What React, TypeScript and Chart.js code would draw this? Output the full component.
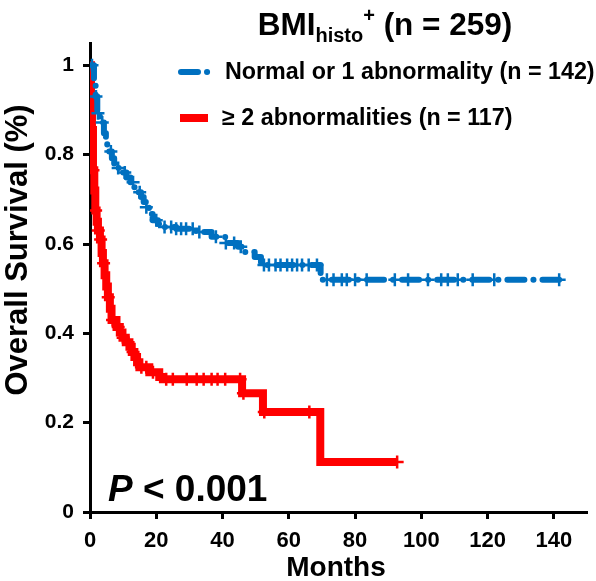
import React, { useEffect, useRef } from "react";
import { Chart, registerables } from "chart.js";

Chart.register(...registerables);

// ---------- data ----------
const xTicks = [0, 20, 40, 60, 80, 100, 120, 140];
const yTicks = [0, 0.2, 0.4, 0.6, 0.8, 1];
const yTickLabels = ["0", "0.2", "0.4", "0.6", "0.8", "1"];

const titleMain = "BMI";
const titleSub = "histo";
const titleSup = "+";
const titleRest = " (n = 259)";
const seriesNames = ["Normal or 1 abnormality (n = 142)", "\u2265 2 abnormalities (n = 117)"];
const pText = "P";
const pRest = " < 0.001";
const xTitle = "Months";
const yTitle = "Overall Survival (%)";

// Normal or 1 abnormality: event times and survival after each event
const blueTimes = [0, 1.2, 1.7, 2.2, 3.0, 3.6, 4.2, 4.8, 5.2, 5.8, 6.6, 7.3, 8.0, 9.5, 11, 12.2, 13.4, 14.5, 15.4, 16.2, 16.9, 17.8, 18.9, 20.5, 22, 26, 32, 36.7, 40.8, 44.7, 46.7, 49.7, 51.6, 69.6];
const blueSurv = [1, 0.96, 0.93, 0.893, 0.88, 0.872, 0.848, 0.835, 0.821, 0.807, 0.792, 0.78, 0.77, 0.76, 0.749, 0.738, 0.727, 0.716, 0.705, 0.694, 0.682, 0.667, 0.653, 0.645, 0.638, 0.634, 0.627, 0.616, 0.602, 0.594, 0.582, 0.571, 0.553, 0.52];
const blueEnd = 141.6;
const blueCensor = [0.6, 1.8, 2.4, 3.7, 6.3, 8.5, 10.5, 13, 15, 17, 20, 22.5, 24.5, 26, 27.5, 29, 31, 33, 38, 41, 43.5, 45.5, 52.5, 54, 56, 57.5, 59.5, 61, 62.5, 64, 66, 68.5, 71.5, 73.5, 76, 77.5, 80, 83.5, 92, 96, 102, 106, 108, 111, 115.5, 122, 141.6];

// >= 2 abnormalities
const redTimes = [0, 0.3, 0.6, 0.9, 1.3, 1.6, 2.0, 2.4, 3.0, 3.5, 3.9, 4.4, 4.9, 5.4, 6.0, 6.5, 8.0, 9.0, 9.8, 10.8, 11.9, 12.6, 13.4, 14.2, 14.9, 17.9, 20.9, 22.0, 45.9, 52.2, 69.5];
const redSurv = [1, 0.92, 0.855, 0.765, 0.72, 0.675, 0.65, 0.63, 0.61, 0.58, 0.557, 0.53, 0.505, 0.481, 0.455, 0.43, 0.414, 0.402, 0.39, 0.38, 0.37, 0.358, 0.347, 0.335, 0.324, 0.313, 0.302, 0.297, 0.266, 0.224, 0.112];
const redEnd = 92.7;
const redCensor = [0.3, 0.9, 1.7, 2.5, 3.2, 4.1, 5.5, 6.8, 8.5, 10, 11.5, 13, 15.5, 17, 19, 23, 25, 29.2, 32.2, 34.3, 36.7, 38.5, 40.8, 45.3, 46.3, 52.6, 66.2, 92.7];

const BLUE = "#0070c0";
const RED = "#ff0000";
const FONT = "'Liberation Sans', Arial, sans-serif";

function survAt(times: number[], surv: number[], t: number) {
  let s = surv[0];
  for (let i = 0; i < times.length; i++) if (times[i] <= t) s = surv[i];
  return s;
}
function stepPoints(times: number[], surv: number[], end: number) {
  const pts = times.map((t, i) => ({ x: t, y: surv[i] }));
  pts.push({ x: end, y: surv[surv.length - 1] });
  return pts;
}
function censorPoints(times: number[], surv: number[], cens: number[]) {
  return cens.map((t) => ({ x: t, y: survAt(times, surv, t) }));
}

const textPlugin = {
  id: "texts",
  afterDraw(chart: any) {
    const ctx = chart.ctx as CanvasRenderingContext2D;
    ctx.save();
    ctx.fillStyle = "#000";
    // title
    ctx.textBaseline = "alphabetic";
    ctx.textAlign = "left";
    const big = `bold 31.5px ${FONT}`;
    const small = `bold 20px ${FONT}`;
    ctx.font = big;
    const w1 = ctx.measureText(titleMain).width;
    const w4 = ctx.measureText(titleRest).width;
    ctx.font = small;
    const w2 = ctx.measureText(titleSub).width;
    const w3 = ctx.measureText(titleSup).width;
    const total = w1 + w2 + w3 + w4;
    let tx = 385 - total / 2;
    const base = 35;
    ctx.font = big;
    ctx.fillText(titleMain, tx, base);
    tx += w1;
    ctx.font = small;
    ctx.fillText(titleSub, tx, base + 7);
    ctx.fillText(titleSup, tx + w2, base - 13);
    tx += w2 + w3;
    ctx.font = big;
    ctx.fillText(titleRest, tx, base);

    // legend
    ctx.lineCap = "round";
    ctx.strokeStyle = BLUE;
    ctx.lineWidth = 6;
    ctx.setLineDash([17, 9, 0.1, 9]);
    ctx.beginPath();
    ctx.moveTo(181, 72);
    ctx.lineTo(212, 72);
    ctx.stroke();
    ctx.setLineDash([]);
    ctx.lineCap = "butt";
    ctx.strokeStyle = RED;
    ctx.lineWidth = 8;
    ctx.beginPath();
    ctx.moveTo(180, 118);
    ctx.lineTo(208, 118);
    ctx.stroke();
    ctx.font = `bold 23.3px ${FONT}`;
    ctx.textBaseline = "middle";
    ctx.fillText(seriesNames[0], 225, 73);
    ctx.fillText(seriesNames[1], 222, 119);

    // p value
    ctx.textBaseline = "alphabetic";
    ctx.font = `italic bold 37px ${FONT}`;
    ctx.fillText(pText, 108, 501);
    const pw = ctx.measureText(pText).width;
    ctx.font = `bold 37px ${FONT}`;
    ctx.fillText(pRest, 108 + pw, 501);

    // axis titles
    ctx.textAlign = "center";
    ctx.textBaseline = "middle";
    ctx.font = `bold 28px ${FONT}`;
    ctx.fillText(xTitle, 336, 568);
    ctx.translate(18, 250);
    ctx.rotate(-Math.PI / 2);
    ctx.font = `bold 31px ${FONT}`;
    ctx.fillText(yTitle, 0, 0);
    ctx.restore();
  },
};

export default function App() {
  const ref = useRef<HTMLCanvasElement | null>(null);
  useEffect(() => {
    if (!ref.current) return;
    const chart = new Chart(ref.current, {
      type: "line",
      data: {
        datasets: [
          {
            data: censorPoints(blueTimes, blueSurv, blueCensor),
            showLine: false,
            pointStyle: "cross",
            pointRadius: 6.5,
            pointBorderWidth: 2.5,
            borderColor: BLUE,
            backgroundColor: BLUE,
            order: 1,
          },
          {
            data: stepPoints(blueTimes, blueSurv, blueEnd),
            stepped: true,
            borderColor: BLUE,
            borderWidth: 6,
            borderDash: [17, 9, 0.1, 9],
            borderCapStyle: "round",
            borderJoinStyle: "round",
            pointRadius: 0,
            fill: false,
            order: 2,
          },
          {
            data: censorPoints(redTimes, redSurv, redCensor),
            showLine: false,
            pointStyle: "cross",
            pointRadius: 6.5,
            pointBorderWidth: 2.5,
            borderColor: RED,
            backgroundColor: RED,
            order: 3,
          },
          {
            data: stepPoints(redTimes, redSurv, redEnd),
            stepped: true,
            borderColor: RED,
            borderWidth: 8,
            borderJoinStyle: "miter",
            pointRadius: 0,
            fill: false,
            order: 4,
          },
        ],
      } as any,
      options: {
        animation: false,
        responsive: false,
        maintainAspectRatio: false,
        layout: { padding: { left: 0, right: 3, top: 43, bottom: 0 } },
        plugins: { legend: { display: false }, tooltip: { enabled: false }, title: { display: false } },
        scales: {
          x: {
            type: "linear",
            min: 0,
            max: 150,
            afterBuildTicks: (s: any) => {
              s.ticks = xTicks.map((v) => ({ value: v }));
            },
            afterFit: (s: any) => {
              s.height = 69;
            },
            grid: { display: true, drawOnChartArea: false, drawTicks: true, tickLength: 7, tickWidth: 3, tickColor: "#000" },
            border: { display: true, color: "#000", width: 3 },
            ticks: { color: "#000", font: { family: FONT, weight: "bold", size: 22 }, padding: 9, maxRotation: 0, autoSkip: false },
          },
          y: {
            type: "linear",
            min: 0,
            max: 1.05,
            afterBuildTicks: (s: any) => {
              s.ticks = yTicks.map((v) => ({ value: v }));
            },
            afterFit: (s: any) => {
              s.width = 90;
            },
            grid: { display: true, drawOnChartArea: false, drawTicks: true, tickLength: 7, tickWidth: 3, tickColor: "#000" },
            border: { display: true, color: "#000", width: 3 },
            ticks: {
              color: "#000",
              font: { family: FONT, weight: "bold", size: 21 },
              padding: 9,
              autoSkip: false,
              callback: (v: any) => {
                const i = yTicks.findIndex((t) => Math.abs(t - v) < 1e-9);
                return i >= 0 ? yTickLabels[i] : "";
              },
            },
          },
        },
      } as any,
      plugins: [textPlugin],
    });
    return () => chart.destroy();
  }, []);
  return (
    <div style={{ position: "fixed", left: 0, top: 0, width: 596, height: 581, background: "#fff" }}>
      <canvas ref={ref} width={596} height={581} style={{ width: 596, height: 581 }} />
    </div>
  );
}
